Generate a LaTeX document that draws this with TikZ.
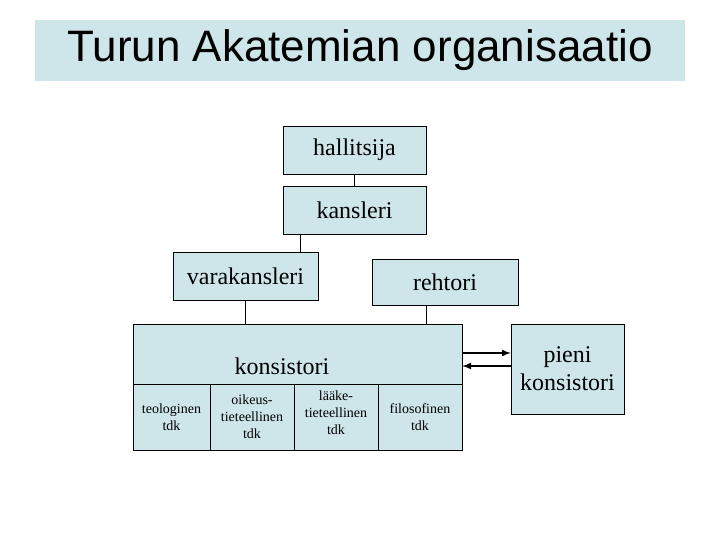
\documentclass[tikz,border=0pt]{standalone}
\usepackage{fontspec}
\setmainfont{Liberation Serif}
\newfontfamily\titlefont{Liberation Sans}
\usetikzlibrary{arrows}
\definecolor{boxblue}{RGB}{206,230,234}

\begin{document}
\begin{tikzpicture}[x=1pt, y=-1pt,
  box/.style={draw=black, fill=boxblue, inner sep=0pt, font=\fontsize{24}{28}\selectfont},
  cell/.style={draw=black, fill=boxblue, inner sep=0pt, minimum width=84pt, minimum height=66pt,
    align=center, font=\fontsize{14}{17}\selectfont}]
\useasboundingbox (0,0) rectangle (720,540);
% title
\node[fill=boxblue, minimum width=650pt, minimum height=61pt, font=\titlefont\fontsize{44}{48}\selectfont] (title) at (360,50.5) {Turun Akatemian organisaatio};
% chain of offices
\node[box, minimum width=143pt, minimum height=48pt] (hal) at (354.5,150) {hallitsija};
\node[box, minimum width=143pt, minimum height=48pt] (kan) at (354.5,210) {kansleri};
\node[box, minimum width=145pt, minimum height=48pt] (vara) at (245.5,276) {varakansleri};
\node[box, minimum width=146pt, minimum height=46pt] (reh) at (445,282) {rehtori};
% konsistori and its faculties
\node[box, minimum width=329pt, minimum height=60pt] (kons) at (297.5,354) {};
\node[font=\fontsize{24}{28}\selectfont, inner sep=0pt] (konstext) at (282,366) {konsistori};
\node[cell, minimum width=77pt] (teol) at (171.5,417) {teologinen\\tdk};
\node[cell] (oik) at (252,417) {oikeus-\\tieteellinen\\tdk};
\node[cell] (laak) at (336,417) {};
\node[align=center, font=\fontsize{14}{17}\selectfont, inner sep=0pt] (laaktext) at (336,413) {lääke-\\tieteellinen\\tdk};
\node[cell] (filo) at (420,417) {filosofinen\\tdk};
\node[box, minimum width=113pt, minimum height=90pt, align=center, font=\fontsize{24}{28}\selectfont] (pieni) at (567.5,369) {pieni\\konsistori};
% connectors
\draw (hal) -- (kan);
\draw (kan.south -| 300,0) -- (vara.north -| 300,0);
\draw (vara) -- (vara |- kons.north);
\draw (reh.south -| 426,0) -- (kons.north -| 426,0);
\draw[line width=2pt, ->, >=latex] (kons.east |- 0,353) -- (pieni.west |- 0,353);
\draw[line width=2pt, ->, >=latex] (pieni.west |- 0,366) -- (kons.east |- 0,366);
\end{tikzpicture}
\end{document}
